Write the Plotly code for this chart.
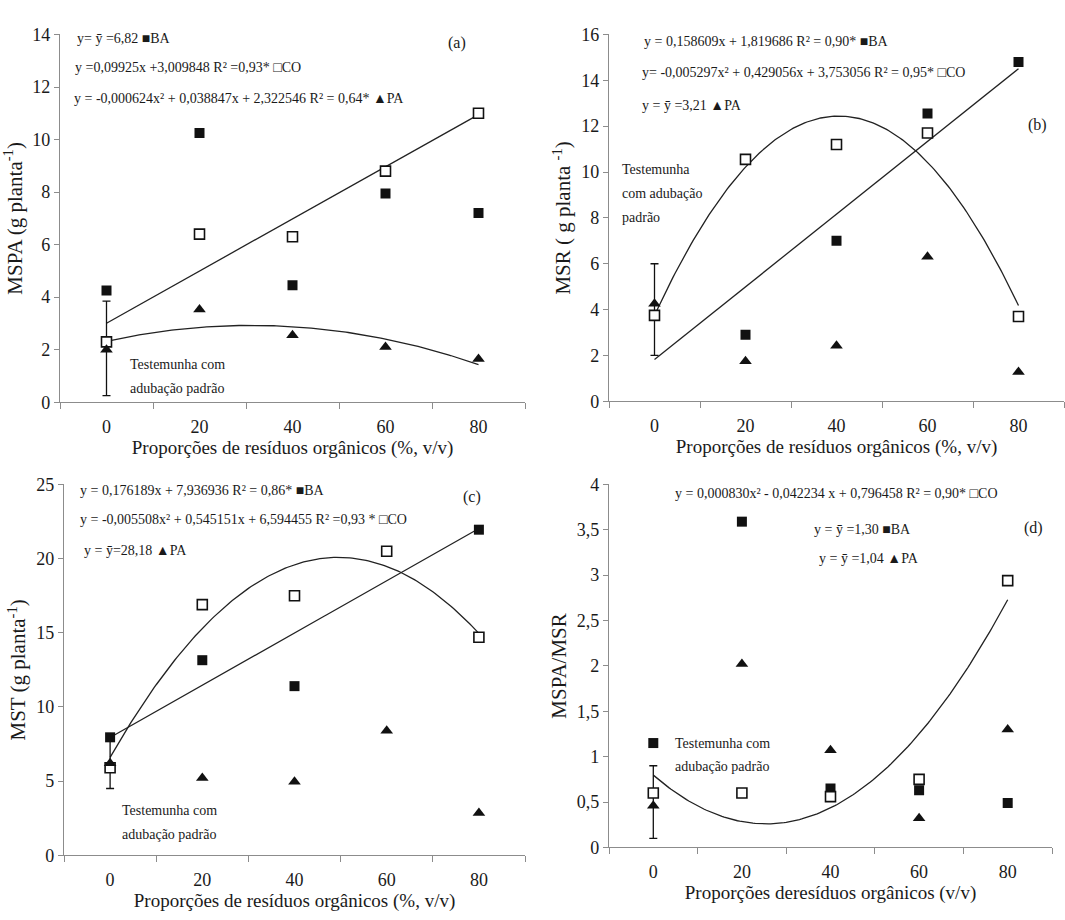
import numpy as np
import plotly.graph_objects as go

# ---------------- data ----------------
doses = [0, 20, 40, 60, 80]
x_tick_labels = ["0", "20", "40", "60", "80"]

# (a) MSPA
a_BA = [4.25, 10.25, 4.45, 7.95, 7.2]
a_CO = [2.3, 6.4, 6.3, 8.8, 11.0]
a_PA = [2.0, 3.53, 2.55, 2.1, 1.65]
a_ctrl_mean, a_ctrl_err = 2.05, 1.8
a_fit_CO = [0.09925, 3.009848]
a_fit_PA = [-0.000624, 0.038847, 2.322546]

# (b) MSR
b_BA = [None, 2.9, 7.0, 12.55, 14.8]
b_CO = [3.75, 10.55, 11.2, 11.7, 3.7]
b_PA = [4.25, 1.75, 2.42, 6.3, 1.28]
b_ctrl_mean, b_ctrl_err = 4.0, 2.0
b_fit_BA = [0.158609, 1.819686]
b_fit_CO = [-0.005297, 0.429056, 3.753056]

# (c) MST
c_BA = [7.95, 13.15, 11.4, None, 21.95]
c_CO = [5.9, 16.9, 17.5, 20.5, 14.7]
c_PA = [6.2, 5.2, 4.95, 8.4, 2.85]
c_ctrl_mean, c_ctrl_err = 6.1, 1.6
c_fit_BA = [0.176189, 7.936936]
c_fit_CO = [-0.005508, 0.545151, 6.594455]

# (d) MSPA/MSR
d_BA = [1.15, 3.59, 0.65, 0.63, 0.49]
d_CO = [0.6, 0.6, 0.56, 0.75, 2.94]
d_PA = [0.46, 2.02, 1.07, 0.32, 1.30]
d_ctrl_mean, d_ctrl_err = 0.5, 0.4
d_fit_CO = [0.000830, -0.042234, 0.796458]

# ---------------- figure ----------------
W, H = 1065, 920
FONT = "Liberation Serif, Times New Roman, serif"
AXC = "#8c8c8c"
TXT = "#1a1a1a"

fig = go.Figure()

def dom_x(x0, x1):
    return [x0 / W, x1 / W]

def dom_y(y0, y1):
    return [1 - y1 / H, 1 - y0 / H]

panels = [
    dict(n="", xd=(60, 525), yd=(25, 401), yr=[0, 14], dt=2,
         ytitle="MSPA (g planta<sup>-1</sup>)",
         xtitle="Proporções de resíduos orgânicos (%, v/v)"),
    dict(n="2", xd=(609, 1064), yd=(25, 400), yr=[0, 16], dt=2,
         ytitle="MSR ( g planta <sup>-1</sup>)",
         xtitle="Proporções de resíduos orgânicos (%, v/v)"),
    dict(n="3", xd=(64, 525), yd=(485, 864), yr=[0, 25], dt=5,
         ytitle="MST (g planta<sup>-1</sup>)",
         xtitle="Proporções de resíduos orgânicos (%, v/v)"),
    dict(n="4", xd=(609, 1052), yd=(485, 856), yr=[0, 4], dt=0.5,
         ytitle="MSPA/MSR",
         xtitle="Proporções deresíduos orgânicos (v/v)"),
]

layout_axes = {}
for p in panels:
    n = p["n"]
    layout_axes["xaxis" + n] = dict(
        domain=dom_x(*p["xd"]), anchor="y" + n, range=[-10, 90],
        tickmode="array", tickvals=doses, ticktext=x_tick_labels,
        ticks="", showline=True, linecolor=AXC, linewidth=1.2,
        showgrid=False, zeroline=False, ticklabelstandoff=8,
        tickfont=dict(family=FONT, size=18, color=TXT),
        minor=dict(tickmode="array", tickvals=[-10, 10, 30, 50, 70, 90],
                   ticks="outside", ticklen=6, tickcolor=AXC, tickwidth=1.2,
                   showgrid=False),
        title=dict(text=p["xtitle"], standoff=0,
                   font=dict(family=FONT, size=19, color=TXT)),
    )
    layout_axes["yaxis" + n] = dict(
        domain=dom_y(*p["yd"]), anchor="x" + n, range=p["yr"],
        tickmode="linear", tick0=0, dtick=p["dt"],
        ticks="outside", ticklen=5, tickcolor=AXC, tickwidth=1.2,
        showline=True, linecolor=AXC, linewidth=1.2,
        showgrid=False, zeroline=False,
        tickfont=dict(family=FONT, size=18, color=TXT),
        title=dict(text=p["ytitle"], standoff=4,
                   font=dict(family=FONT, size=21, color=TXT)),
    )

xs_fit = np.linspace(0, 80, 161)

def add_line(coeffs, n):
    fig.add_trace(go.Scatter(x=xs_fit, y=np.polyval(coeffs, xs_fit), mode="lines",
                             line=dict(color="#222", width=1.3),
                             xaxis="x" + n, yaxis="y" + n, showlegend=False,
                             hoverinfo="skip"))

def add_points(BA, CO, PA, cm, ce, n):
    fig.add_trace(go.Scatter(x=[0], y=[cm], mode="markers",
                             marker=dict(size=1, color="rgba(0,0,0,0)"),
                             error_y=dict(type="data", array=[ce], visible=True,
                                          color="#111", thickness=1.3, width=4),
                             xaxis="x" + n, yaxis="y" + n, showlegend=False))
    fig.add_trace(go.Scatter(x=doses, y=BA, mode="markers", name="BA",
                             marker=dict(symbol="square", size=10, color="#111"),
                             xaxis="x" + n, yaxis="y" + n, showlegend=False))
    fig.add_trace(go.Scatter(x=doses, y=CO, mode="markers", name="CO",
                             marker=dict(symbol="square", size=10, color="white",
                                         line=dict(color="#111", width=1.6)),
                             xaxis="x" + n, yaxis="y" + n, showlegend=False))
    fig.add_trace(go.Scatter(x=doses, y=PA, mode="markers", name="PA",
                             marker=dict(symbol="triangle-up", size=11, color="#111"),
                             xaxis="x" + n, yaxis="y" + n, showlegend=False))

# panel a
add_line(a_fit_CO, "")
add_line(a_fit_PA, "")
add_points(a_BA, a_CO, a_PA, a_ctrl_mean, a_ctrl_err, "")
# panel b
add_line(b_fit_BA, "2")
add_line(b_fit_CO, "2")
add_points(b_BA, b_CO, b_PA, b_ctrl_mean, b_ctrl_err, "2")
# panel c
add_line(c_fit_BA, "3")
add_line(c_fit_CO, "3")
add_points(c_BA, c_CO, c_PA, c_ctrl_mean, c_ctrl_err, "3")
# panel d
add_line(d_fit_CO, "4")
add_points(d_BA, d_CO, d_PA, d_ctrl_mean, d_ctrl_err, "4")

# ---------------- annotations ----------------
def txt(x, y, s, size=14, xanchor="left"):
    fig.add_annotation(x=x / W, y=1 - y / H, xref="paper", yref="paper",
                       text=s, showarrow=False, xanchor=xanchor, yanchor="middle",
                       font=dict(family=FONT, size=size, color=TXT))

# (a)
txt(75, 29, "y= ȳ =6,82 ■BA")
txt(73, 59, "y =0,09925x +3,009848 R² =0,93* □CO")
txt(72, 90, "y = -0,000624x² + 0,038847x + 2,322546 R² = 0,64* ▲PA")
txt(457, 34, "(a)", 16, "center")
txt(128, 362, "Testemunha com")
txt(128, 387, "adubação padrão")
# (b)
txt(642, 32, "y = 0,158609x + 1,819686 R² = 0,90* ■BA")
txt(640, 64, "y= -0,005297x² + 0,429056x + 3,753056 R² = 0,95* □CO")
txt(640, 98, "y = ȳ =3,21 ▲PA")
txt(1037, 118, "(b)", 16, "center")
txt(620, 163, "Testemunha")
txt(620, 188, "com adubação")
txt(620, 212, "padrão")
# (c)
txt(78, 491, "y = 0,176189x + 7,936936 R² = 0,86* ■BA")
txt(78, 521, "y = -0,005508x² + 0,545151x + 6,594455 R² =0,93 * □CO")
txt(82, 552, "y = ȳ=28,18 ▲PA")
txt(472, 498, "(c)", 16, "center")
txt(120, 818, "Testemunha com")
txt(120, 843, "adubação padrão")
# (d)
txt(836, 494, "y = 0,000830x² - 0,042234 x + 0,796458 R² = 0,90* □CO", 14, "center")
txt(862, 531, "y = ȳ =1,30 ■BA", 14, "center")
txt(869, 561, "y = ȳ =1,04 ▲PA", 14, "center")
txt(1033, 530, "(d)", 16, "center")
txt(673, 750, "Testemunha com")
txt(673, 773, "adubação padrão")

fig.update_layout(
    width=W, height=H,
    margin=dict(l=0, r=0, t=0, b=0),
    paper_bgcolor="white", plot_bgcolor="white",
    font=dict(family=FONT, color=TXT),
    showlegend=False,
    separators=",.",
    **layout_axes,
)

fig.write_html("out.html", config={"displayModeBar": False},
               post_script="document.body.style.margin='0';document.body.style.padding='0';")
